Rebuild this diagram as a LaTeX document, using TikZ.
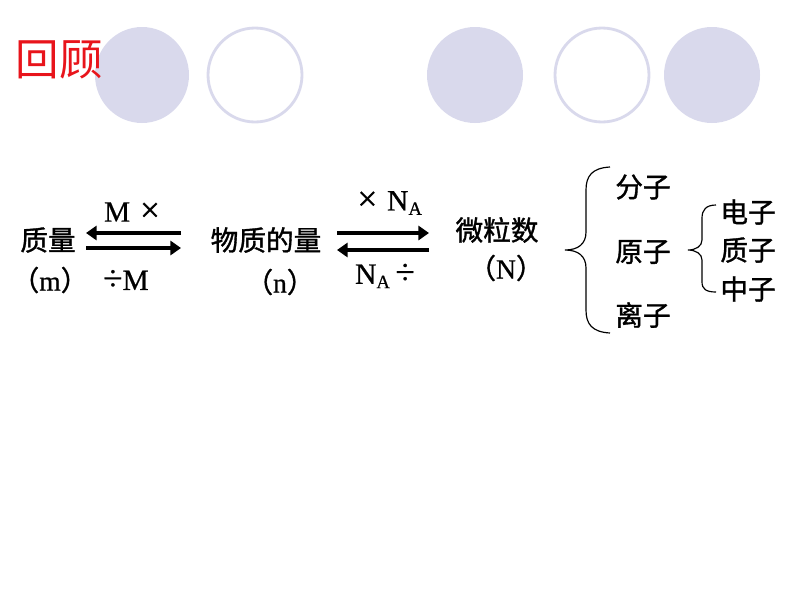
\documentclass[tikz,border=0pt]{standalone}
\usepackage{fontspec}
\setmainfont{Liberation Serif}
\newfontfamily\cjk[FakeBold=1.2]{Noto Sans CJK SC}
\newfontfamily\cjktitle{Noto Sans CJK SC}
\newfontfamily\latf[FakeBold=0.6]{Liberation Serif}
\usetikzlibrary{arrows.meta}
\definecolor{lav}{HTML}{D9D9EC}
\definecolor{titlered}{HTML}{E8141B}
\newcommand{\opx}{{\fontsize{30}{30}\selectfont ×}}
\newcommand{\opd}{{\fontsize{30}{30}\selectfont ÷}}
\newcommand{\NA}{N\textsubscript{\latf\fontsize{16}{18}\selectfont A}}
\tikzset{
  dot/.style={fill=lav,draw=none},
  ring/.style={draw=lav,line width=2.4pt,fill=white},
  zh/.style={font=\cjk\fontsize{23.5}{26}\selectfont,inner sep=0pt},
  lat/.style={font=\latf\fontsize{25}{28}\selectfont,inner sep=0pt},
  thickarrow/.style={line width=3.4pt,-{Triangle[length=9pt,width=12pt]}},
  brace/.style={line width=1pt},
}
\begin{document}
\begin{tikzpicture}[x=0.85pt,y=-0.85pt]
\useasboundingbox (0,0) rectangle (800,600);
% decorative circles
\path[dot] (142,75) ellipse [x radius=47,y radius=48];
\path[ring] (255,75) ellipse [x radius=47,y radius=47];
\path[dot] (475,75) ellipse [x radius=48,y radius=48];
\path[ring] (602,75) ellipse [x radius=47,y radius=47];
\path[dot] (712,75) ellipse [x radius=48,y radius=48];
% title
\node[font=\cjktitle\fontsize{37}{40}\selectfont,text=titlered,inner sep=0pt] (title) at (59,60) {回顾};
% left group
\node[zh] (mass) at (48,240) {质量};
\node[zh] (massu) at (50,280) {（{\latf m}）};
\node[lat] (mx) at (132,212) {M\,\,\opx};
\node[lat] (dm) at (126,280) {\opd M};
\coordinate (a1r) at (181,233);
\coordinate (a1l) at (86,233);
\coordinate (a2l) at (86,248);
\coordinate (a2r) at (181,248);
\draw[thickarrow] (a1r) -- (a1l);
\draw[thickarrow] (a2l) -- (a2r);
% middle group
\node[zh] (mol) at (266,240) {物质的量};
\node[zh] (molu) at (280,282) {（{\latf n}）};
\node[lat] (xna) at (390,203) {\opx\,\,\NA};
\node[lat] (nad) at (385,276) {\NA\,\opd};
\coordinate (b1l) at (337,233);
\coordinate (b1r) at (429,233);
\coordinate (b2r) at (429,250);
\coordinate (b2l) at (337,250);
\draw[thickarrow] (b1l) -- (b1r);
\draw[thickarrow] (b2r) -- (b2l);
% particles
\node[zh] (part) at (497,230) {微粒数};
\node[zh] (partu) at (506,268) {（{\latf N}）};
% big brace
\coordinate (bb1) at (610,167);
\coordinate (bbtip) at (565,250);
\coordinate (bb2) at (610,333);
\draw[brace] (bb1) .. controls (592,168) and (586,176) .. (586,190)
  -- (586,232) .. controls (586,244) and (578,250) .. (bbtip)
  .. controls (578,250) and (586,256) .. (586,268)
  -- (586,310) .. controls (586,324) and (592,332) .. (bb2);
\node[zh] (mol2) at (643,187) {分子};
\node[zh] (atom) at (643,252) {原子};
\node[zh] (ion) at (643,315) {离子};
% small brace
\coordinate (sb1) at (716,205);
\coordinate (sbtip) at (688,250);
\coordinate (sb2) at (716,292);
\draw[brace] (sb1) .. controls (706,205) and (702,210) .. (702,218)
  -- (702,240) .. controls (702,246) and (696,250) .. (sbtip)
  .. controls (696,250) and (702,254) .. (702,260)
  -- (702,282) .. controls (702,289) and (706,292) .. (sb2);
\node[zh] (el) at (748,212) {电子};
\node[zh] (pr) at (748,250) {质子};
\node[zh] (ne) at (748,289) {中子};
\end{tikzpicture}
\end{document}
